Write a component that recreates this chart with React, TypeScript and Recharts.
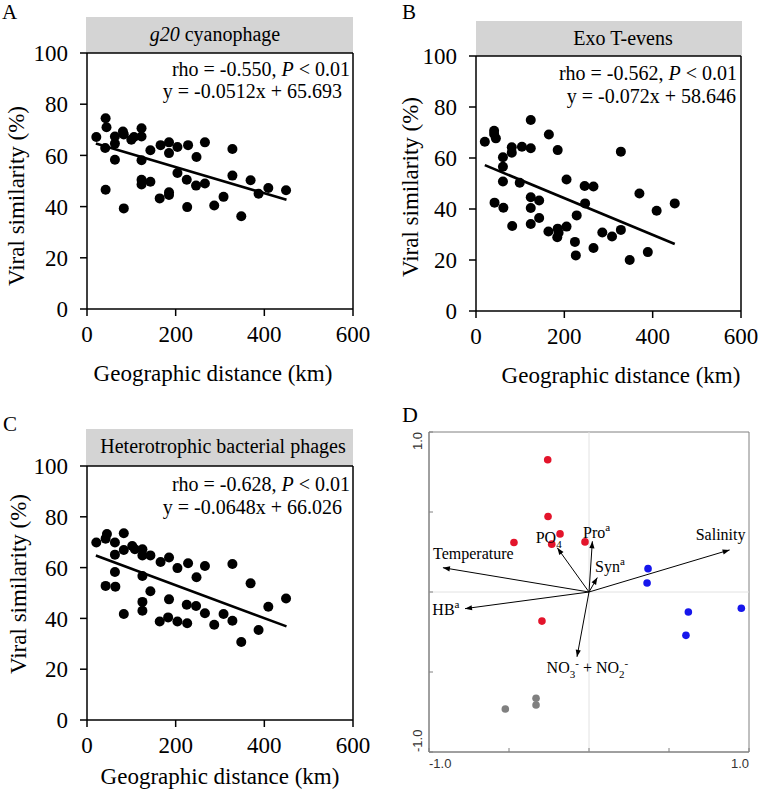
import React from 'react';
import { ScatterChart, Scatter, XAxis, YAxis, ReferenceLine, ReferenceArea } from 'recharts';

const SERIF = '"Liberation Serif", "Times New Roman", serif';
const SANS = '"Liberation Sans", Arial, sans-serif';

// ---------- Panels A-C: distance-decay ----------
const distTicks = [0, 200, 400, 600];
const simTicks = [0, 20, 40, 60, 80, 100];

const g20Distance = [21, 42, 44, 41, 42, 63, 63, 63, 81, 83, 83, 100, 106, 123, 123, 123, 123, 123, 143, 143, 166, 164, 185, 185, 185, 185, 204, 204, 228, 225, 226, 247, 246, 266, 266, 287, 308, 328, 328, 348, 369, 387, 409, 449];
const g20Similarity = [67.2, 74.5, 71, 62.9, 46.6, 67.4, 64.6, 58.3, 69.3, 68.2, 39.3, 66.1, 67.2, 70.6, 67.4, 58.1, 50.5, 48.6, 62, 49.7, 64, 43.2, 65.1, 60.9, 45.6, 44.5, 63.3, 53.1, 64, 50.5, 39.8, 59.4, 48.2, 65.1, 49, 40.4, 43.8, 62.5, 52.1, 36.2, 50.3, 45, 47.3, 46.4];

const exoDistance = [20, 41, 41, 45, 42, 61, 61, 61, 62, 81, 81, 82, 104, 99, 124, 124, 124, 124, 124, 143, 143, 165, 164, 185, 185, 184, 187, 205, 205, 224, 226, 228, 246, 247, 266, 266, 286, 308, 328, 328, 348, 370, 389, 409, 450];
const exoSimilarity = [66.4, 70.7, 69.4, 67.7, 42.5, 60.3, 56.6, 50.8, 40.5, 64.2, 62.1, 33.3, 64.4, 50.3, 74.9, 63.8, 44.6, 40.4, 34.1, 43.3, 36.5, 69.2, 31.2, 63.1, 32.3, 28.9, 30.7, 51.6, 33.1, 27.1, 21.8, 37.5, 49, 42.2, 48.8, 24.7, 30.8, 29.2, 62.5, 31.8, 20, 46.1, 23.1, 39.3, 42.2];

const hbpDistance = [21, 42, 45, 42, 63, 63, 63, 64, 83, 83, 83, 102, 108, 125, 125, 125, 125, 125, 143, 143, 166, 164, 185, 185, 183, 204, 204, 228, 225, 226, 247, 246, 266, 266, 287, 308, 328, 328, 348, 369, 387, 409, 449];
const hbpSimilarity = [69.9, 71.4, 73.2, 52.8, 69.9, 65.1, 58.3, 52.5, 73.5, 66.9, 41.7, 68.5, 67.2, 67.2, 64.8, 56.7, 46.5, 43, 64.8, 50.7, 62.2, 38.8, 64, 47.5, 40.4, 59.8, 38.8, 61.7, 45.4, 38.1, 56.2, 44.9, 60.6, 42, 37.5, 41.7, 61.4, 39.1, 30.7, 53.8, 35.4, 44.6, 47.8];

// regression: [slope, intercept], fitted range
const g20Fit = [-0.0512, 65.693];
const exoFit = [-0.072, 58.646];
const hbpFit = [-0.0648, 66.026];
const fitRange = [20, 450];

// ---------- Panel D: RDA ----------
const redX = [-0.258, -0.256, -0.181, -0.233, -0.469, -0.025, -0.294];
const redY = [0.827, 0.472, 0.363, 0.299, 0.309, 0.313, -0.182];
const blueX = [0.369, 0.363, 0.621, 0.606, 0.952];
const blueY = [0.146, 0.056, -0.125, -0.271, -0.102];
const grayX = [-0.331, -0.331, -0.523];
const grayY = [-0.664, -0.706, -0.731];

const vecNames = ['Temperature', 'HB', 'PO4', 'Pro', 'Syn', 'NO3', 'Salinity'];
const vecX = [-0.913, -0.775, -0.198, 0.021, 0.052, -0.075, 0.879];
const vecY = [0.152, -0.104, 0.276, 0.317, 0.09, -0.405, 0.263];
const labelX = [-0.975, -0.979, -0.333, -0.0375, 0.0375, -0.265, 0.667];
const labelY = [0.205, -0.144, 0.309, 0.336, 0.127, -0.505, 0.326];
const rdaTicks = [-1, -0.5, 0, 0.5, 1];

const zip = (xs: number[], ys: number[]) => xs.map((x, i) => ({ x, y: ys[i] }));

const BlackDot = (p: any) => <circle cx={p.cx} cy={p.cy} r={5} fill="#000" />;

type PanelProps = {
  left: number; top: number; width: number; height: number;
  margin: { top: number; right: number; bottom: number; left: number };
  yWidth: number; xHeight: number;
  dist: number[]; sim: number[]; fit: number[];
};

const DecayPanel = ({ left, top, width, height, margin, yWidth, xHeight, dist, sim, fit }: PanelProps) => {
  const data = zip(dist, sim);
  const f = (x: number) => fit[0] * x + fit[1];
  return (
    <div style={{ position: 'absolute', left, top, width, height }}>
      <ScatterChart width={width} height={height} margin={margin}>
        <XAxis
          type="number" dataKey="x" domain={[0, 600]} ticks={distTicks} interval={0}
          height={xHeight} tickSize={7} tickMargin={10}
          axisLine={{ stroke: '#000', strokeWidth: 1.5 }} tickLine={{ stroke: '#000', strokeWidth: 1.5 }}
          tick={{ fill: '#000', fontSize: 23, fontFamily: SERIF }}
        />
        <YAxis
          type="number" dataKey="y" domain={[0, 100]} ticks={simTicks} interval={0}
          width={yWidth} tickSize={7} tickMargin={12}
          axisLine={{ stroke: '#000', strokeWidth: 1.5 }} tickLine={{ stroke: '#000', strokeWidth: 1.5 }}
          tick={{ fill: '#000', fontSize: 23, fontFamily: SERIF }}
        />
        <ReferenceLine x={600} stroke="#000" strokeWidth={1.5} />
        <ReferenceLine y={100} stroke="#000" strokeWidth={1.5} />
        <Scatter data={data} shape={BlackDot} isAnimationActive={false} />
        <ReferenceLine
          segment={[{ x: fitRange[0], y: f(fitRange[0]) }, { x: fitRange[1], y: f(fitRange[1]) }]}
          stroke="#000" strokeWidth={2.6}
        />
      </ScatterChart>
    </div>
  );
};

const makeDot = (color: string) => (p: any) => <circle cx={p.cx} cy={p.cy} r={3.8} fill={color} />;

const ArrowHead = (p: any) => {
  const { cx, cy, payload } = p;
  if (!payload || !payload.tip) return <g />;
  const ang = Math.atan2(-payload.y, payload.x);
  const L = 7, W = 2.6;
  const bx = cx - L * Math.cos(ang);
  const by = cy - L * Math.sin(ang);
  const nx = -Math.sin(ang) * W;
  const ny = Math.cos(ang) * W;
  return <polygon points={`${cx},${cy} ${bx + nx},${by + ny} ${bx - nx},${by - ny}`} fill="#000" />;
};

const sub = (t: string) => <tspan fontSize={11} dy={5}>{t}</tspan>;

const renderVecLabel = (name: string) => {
  switch (name) {
    case 'HB':
      return [<tspan key="a">HB</tspan>, <tspan key="b" fontSize={11} dy={-7}>a</tspan>];
    case 'Pro':
      return [<tspan key="a">Pro</tspan>, <tspan key="b" fontSize={11} dy={-7}>a</tspan>];
    case 'Syn':
      return [<tspan key="a">Syn</tspan>, <tspan key="b" fontSize={11} dy={-7}>a</tspan>];
    case 'PO4':
      return [<tspan key="a">PO</tspan>, <tspan key="b" fontSize={11} dy={5}>4</tspan>];
    case 'NO3':
      return [
        <tspan key="a">NO</tspan>,
        <tspan key="b" fontSize={11} dy={5}>3</tspan>,
        <tspan key="c" fontSize={11} dy={-11}>-</tspan>,
        <tspan key="d" dy={6}> + NO</tspan>,
        <tspan key="e" fontSize={11} dy={5}>2</tspan>,
        <tspan key="f" fontSize={11} dy={-11}>-</tspan>,
      ];
    default:
      return name;
  }
};

const VecLabel = (p: any) => (
  <text x={p.cx} y={p.cy} fontFamily={SERIF} fontSize={16} fill="#000">
    {renderVecLabel(p.payload.name)}
  </text>
);

const DXTick = (p: any) => {
  const { x, y, payload } = p;
  const v = payload.value;
  return (
    <g>
      <line x1={x} y1={y} x2={x} y2={y - 4} stroke="#808080" strokeWidth={1} />
      {Math.abs(v) === 1 && (
        <text x={x} y={y + 16} textAnchor={v < 0 ? 'start' : 'end'} fontFamily={SANS} fontSize={13} fill="#333">
          {v.toFixed(1)}
        </text>
      )}
    </g>
  );
};

const DYTick = (p: any) => {
  const { x, y, payload } = p;
  const v = payload.value;
  const tx = x - 7;
  return (
    <g>
      <line x1={x} y1={y} x2={x + 4} y2={y} stroke="#808080" strokeWidth={1} />
      {Math.abs(v) === 1 && (
        <text x={tx} y={y} transform={`rotate(-90 ${tx} ${y})`} textAnchor={v < 0 ? 'start' : 'end'} fontFamily={SANS} fontSize={13} fill="#333">
          {v.toFixed(1)}
        </text>
      )}
    </g>
  );
};

const RdaPanel = () => {
  const vectors = vecNames.map((name, i) => [
    { x: 0, y: 0, tip: false },
    { x: vecX[i], y: vecY[i], tip: true },
  ]);
  const labels = vecNames.map((name, i) => ({ x: labelX[i], y: labelY[i], name }));
  return (
    <div style={{ position: 'absolute', left: 379, top: 390, width: 379, height: 400 }}>
      <ScatterChart width={379} height={400} margin={{ top: 42, right: 9, bottom: 0, left: 0 }}>
        <XAxis
          type="number" dataKey="x" domain={[-1, 1]} ticks={rdaTicks} interval={0}
          height={38} tickSize={0} tickMargin={0} tickLine={false}
          axisLine={{ stroke: '#808080' }} tick={<DXTick />}
        />
        <YAxis
          type="number" dataKey="y" domain={[-1, 1]} ticks={rdaTicks} interval={0}
          width={50} tickSize={0} tickMargin={0} tickLine={false}
          axisLine={{ stroke: '#808080' }} tick={<DYTick />}
        />
        <ReferenceLine x={0} stroke="#e2e2e2" strokeWidth={1} />
        <ReferenceLine y={0} stroke="#e2e2e2" strokeWidth={1} />
        <ReferenceArea x1={-1} x2={1} y1={-1} y2={1} fill="none" fillOpacity={0} stroke="#808080" strokeWidth={1} />
        {vectors.map((d, i) => (
          <Scatter key={vecNames[i]} data={d} line={{ stroke: '#000', strokeWidth: 1 }} lineType="joint" shape={ArrowHead} isAnimationActive={false} />
        ))}
        <Scatter data={zip(redX, redY)} shape={makeDot('#e3142b')} isAnimationActive={false} />
        <Scatter data={zip(blueX, blueY)} shape={makeDot('#1616ec')} isAnimationActive={false} />
        <Scatter data={zip(grayX, grayY)} shape={makeDot('#808080')} isAnimationActive={false} />
        <Scatter data={labels} shape={VecLabel} isAnimationActive={false} />
      </ScatterChart>
    </div>
  );
};

const Annot = ({ rx1, rx2, y1, y2, rho }: { rx1: number; rx2: number; y1: number; y2: number; rho: string }) => null;

export default function App() {
  const t = { fontFamily: SERIF, fill: '#000' };
  return (
    <div style={{ position: 'absolute', left: 0, top: 0, width: 758, height: 790, background: '#fff', overflow: 'hidden' }}>
      <svg width={758} height={790} style={{ position: 'absolute', left: 0, top: 0 }}>
        {/* panel letters */}
        <text x={2} y={19} fontSize={21} {...t}>A</text>
        <text x={402} y={19} fontSize={21} {...t}>B</text>
        <text x={3} y={431} fontSize={21} {...t}>C</text>
        <text x={402} y={422} fontSize={22} {...t}>D</text>

        {/* headers */}
        <rect x={86} y={17} width={267} height={36} fill="#d4d4d4" />
        <text x={215} y={41} fontSize={20} textAnchor="middle" {...t}>
          <tspan fontStyle="italic">g20</tspan> cyanophage
        </text>
        <rect x={476} y={21} width={266} height={35} fill="#d4d4d4" />
        <text x={623} y={45} fontSize={20} textAnchor="middle" {...t}>Exo T-evens</text>
        <rect x={86} y={429} width={267} height={37} fill="#d4d4d4" />
        <text x={223} y={453} fontSize={20} textAnchor="middle" {...t}>Heterotrophic bacterial phages</text>

        {/* statistics */}
        <text x={350} y={76} fontSize={20} textAnchor="end" {...t}>rho = -0.550, <tspan fontStyle="italic">P</tspan> &lt; 0.01</text>
        <text x={342} y={98} fontSize={20} textAnchor="end" {...t}>y = -0.0512x + 65.693</text>
        <text x={737} y={80} fontSize={20} textAnchor="end" {...t}>rho = -0.562, <tspan fontStyle="italic">P</tspan> &lt; 0.01</text>
        <text x={736} y={103} fontSize={20} textAnchor="end" {...t}>y = -0.072x + 58.646</text>
        <text x={350} y={491} fontSize={20} textAnchor="end" {...t}>rho = -0.628, <tspan fontStyle="italic">P</tspan> &lt; 0.01</text>
        <text x={342} y={514} fontSize={20} textAnchor="end" {...t}>y = -0.0648x + 66.026</text>

        {/* axis titles */}
        <text x={213} y={381} fontSize={23} textAnchor="middle" {...t}>Geographic distance (km)</text>
        <text x={621} y={383} fontSize={23} textAnchor="middle" {...t}>Geographic distance (km)</text>
        <text x={220} y={784} fontSize={23} textAnchor="middle" {...t}>Geographic distance (km)</text>
        <text x={16} y={196} fontSize={23} textAnchor="middle" dominantBaseline="central" transform="rotate(-90 16 196)" {...t}>Viral similarity (%)</text>
        <text x={410} y={187} fontSize={23} textAnchor="middle" dominantBaseline="central" transform="rotate(-90 410 187)" {...t}>Viral similarity (%)</text>
        <text x={18} y={584} fontSize={23} textAnchor="middle" dominantBaseline="central" transform="rotate(-90 18 584)" {...t}>Viral similarity (%)</text>
      </svg>

      <DecayPanel left={0} top={0} width={379} height={390}
        margin={{ top: 53, right: 26, bottom: 0, left: 0 }} yWidth={87} xHeight={81}
        dist={g20Distance} sim={g20Similarity} fit={g20Fit} />
      <DecayPanel left={379} top={0} width={379} height={390}
        margin={{ top: 56, right: 17, bottom: 0, left: 0 }} yWidth={97} xHeight={79}
        dist={exoDistance} sim={exoSimilarity} fit={exoFit} />
      <DecayPanel left={0} top={390} width={379} height={400}
        margin={{ top: 76, right: 26, bottom: 0, left: 0 }} yWidth={87} xHeight={70}
        dist={hbpDistance} sim={hbpSimilarity} fit={hbpFit} />
      <RdaPanel />
    </div>
  );
}
